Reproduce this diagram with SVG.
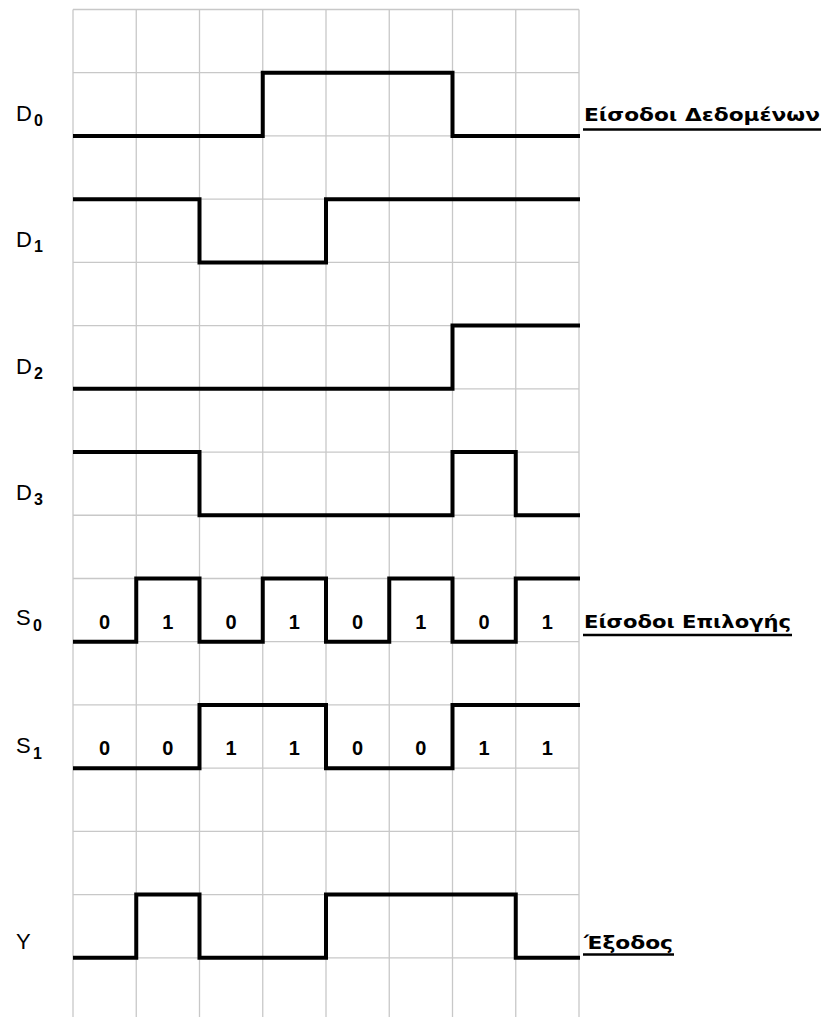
<svg xmlns="http://www.w3.org/2000/svg" width="824" height="1017" viewBox="0 0 824 1017">
<style>
.grid line{stroke:#c8c8c8;stroke-width:1.3}
.sig{fill:none;stroke:#000;stroke-width:4;stroke-linejoin:miter;stroke-linecap:square}
.lbl{font-family:"Liberation Sans",Arial,sans-serif;font-size:22px;fill:#000}
.sub{font-family:"Liberation Sans",Arial,sans-serif;font-size:16px;font-weight:bold;fill:#000}
.dig{font-family:"Liberation Sans",Arial,sans-serif;font-size:20px;font-weight:bold;fill:#000;text-anchor:middle}
.gr{font-family:"DejaVu Sans",Verdana,sans-serif;font-size:18px;font-weight:bold;fill:#000}
.ul{stroke:#000;stroke-width:2.3}
</style>
<rect width="824" height="1017" fill="#fff"/>
<g class="grid" id="grid">
<line x1="73" y1="9.5" x2="73" y2="1017"/>
<line x1="136.25" y1="9.5" x2="136.25" y2="1017"/>
<line x1="199.5" y1="9.5" x2="199.5" y2="1017"/>
<line x1="262.75" y1="9.5" x2="262.75" y2="1017"/>
<line x1="326" y1="9.5" x2="326" y2="1017"/>
<line x1="389.25" y1="9.5" x2="389.25" y2="1017"/>
<line x1="452.5" y1="9.5" x2="452.5" y2="1017"/>
<line x1="515.75" y1="9.5" x2="515.75" y2="1017"/>
<line x1="579" y1="9.5" x2="579" y2="1017"/>
<line x1="73" y1="9.5" x2="579" y2="9.5"/>
<line x1="73" y1="72.72" x2="579" y2="72.72"/>
<line x1="73" y1="135.94" x2="579" y2="135.94"/>
<line x1="73" y1="199.16" x2="579" y2="199.16"/>
<line x1="73" y1="262.38" x2="579" y2="262.38"/>
<line x1="73" y1="325.6" x2="579" y2="325.6"/>
<line x1="73" y1="388.82" x2="579" y2="388.82"/>
<line x1="73" y1="452.04" x2="579" y2="452.04"/>
<line x1="73" y1="515.26" x2="579" y2="515.26"/>
<line x1="73" y1="578.48" x2="579" y2="578.48"/>
<line x1="73" y1="641.7" x2="579" y2="641.7"/>
<line x1="73" y1="704.92" x2="579" y2="704.92"/>
<line x1="73" y1="768.14" x2="579" y2="768.14"/>
<line x1="73" y1="831.36" x2="579" y2="831.36"/>
<line x1="73" y1="894.58" x2="579" y2="894.58"/>
<line x1="73" y1="957.8" x2="579" y2="957.8"/>
</g>
<g id="signals">
<path id="d0" class="sig" d="M75,135.94 H262.75 V72.72 H452.5 V135.94 H578"/>
<path id="d1" class="sig" d="M75,199.16 H199.5 V262.38 H326 V199.16 H578"/>
<path id="d2" class="sig" d="M75,388.82 H452.5 V325.6 H578"/>
<path id="d3" class="sig" d="M75,452.04 H199.5 V515.26 H452.5 V452.04 H515.75 V515.26 H578"/>
<path id="s0" class="sig" d="M75,641.7 H136.25 V578.48 H199.5 V641.7 H262.75 V578.48 H326 V641.7 H389.25 V578.48 H452.5 V641.7 H515.75 V578.48 H578"/>
<path id="s1" class="sig" d="M75,768.14 H199.5 V704.92 H326 V768.14 H452.5 V704.92 H578"/>
<path id="y" class="sig" d="M75,957.8 H136.25 V894.58 H199.5 V957.8 H326 V894.58 H515.75 V957.8 H578"/>
</g>
<g id="labels">
<text class="lbl" x="16" y="121">D</text><text class="sub" x="34" y="126">0</text>
<text class="lbl" x="16" y="247">D</text><text class="sub" x="34" y="252">1</text>
<text class="lbl" x="16" y="374">D</text><text class="sub" x="34" y="379">2</text>
<text class="lbl" x="16" y="500">D</text><text class="sub" x="34" y="505">3</text>
<text class="lbl" x="16" y="625">S</text><text class="sub" x="33" y="631">0</text>
<text class="lbl" x="16" y="753">S</text><text class="sub" x="33" y="759">1</text>
<text class="lbl" x="16" y="949">Y</text>
</g>
<g id="s0-values">
<text class="dig" x="104.6" y="629">0</text>
<text class="dig" x="167.9" y="629">1</text>
<text class="dig" x="231.1" y="629">0</text>
<text class="dig" x="294.4" y="629">1</text>
<text class="dig" x="357.6" y="629">0</text>
<text class="dig" x="420.9" y="629">1</text>
<text class="dig" x="484.1" y="629">0</text>
<text class="dig" x="547.4" y="629">1</text>
</g>
<g id="s1-values">
<text class="dig" x="104.6" y="755">0</text>
<text class="dig" x="167.9" y="755">0</text>
<text class="dig" x="231.1" y="755">1</text>
<text class="dig" x="294.4" y="755">1</text>
<text class="dig" x="357.6" y="755">0</text>
<text class="dig" x="420.9" y="755">0</text>
<text class="dig" x="484.1" y="755">1</text>
<text class="dig" x="547.4" y="755">1</text>
</g>
<g id="data-inputs">
<text class="gr" x="584" y="121" textLength="236" lengthAdjust="spacingAndGlyphs">Είσοδοι Δεδομένων</text>
<line class="ul" x1="583" y1="129.5" x2="821" y2="129.5"/>
</g>
<g id="select-inputs">
<text class="gr" x="584" y="628" textLength="207" lengthAdjust="spacingAndGlyphs">Είσοδοι Επιλογής</text>
<line class="ul" x1="583" y1="635" x2="792" y2="635"/>
</g>
<g id="output">
<text class="gr" x="584" y="949" textLength="89" lengthAdjust="spacingAndGlyphs">Έξοδος</text>
<line class="ul" x1="583" y1="954.5" x2="674" y2="954.5"/>
</g>
</svg>
